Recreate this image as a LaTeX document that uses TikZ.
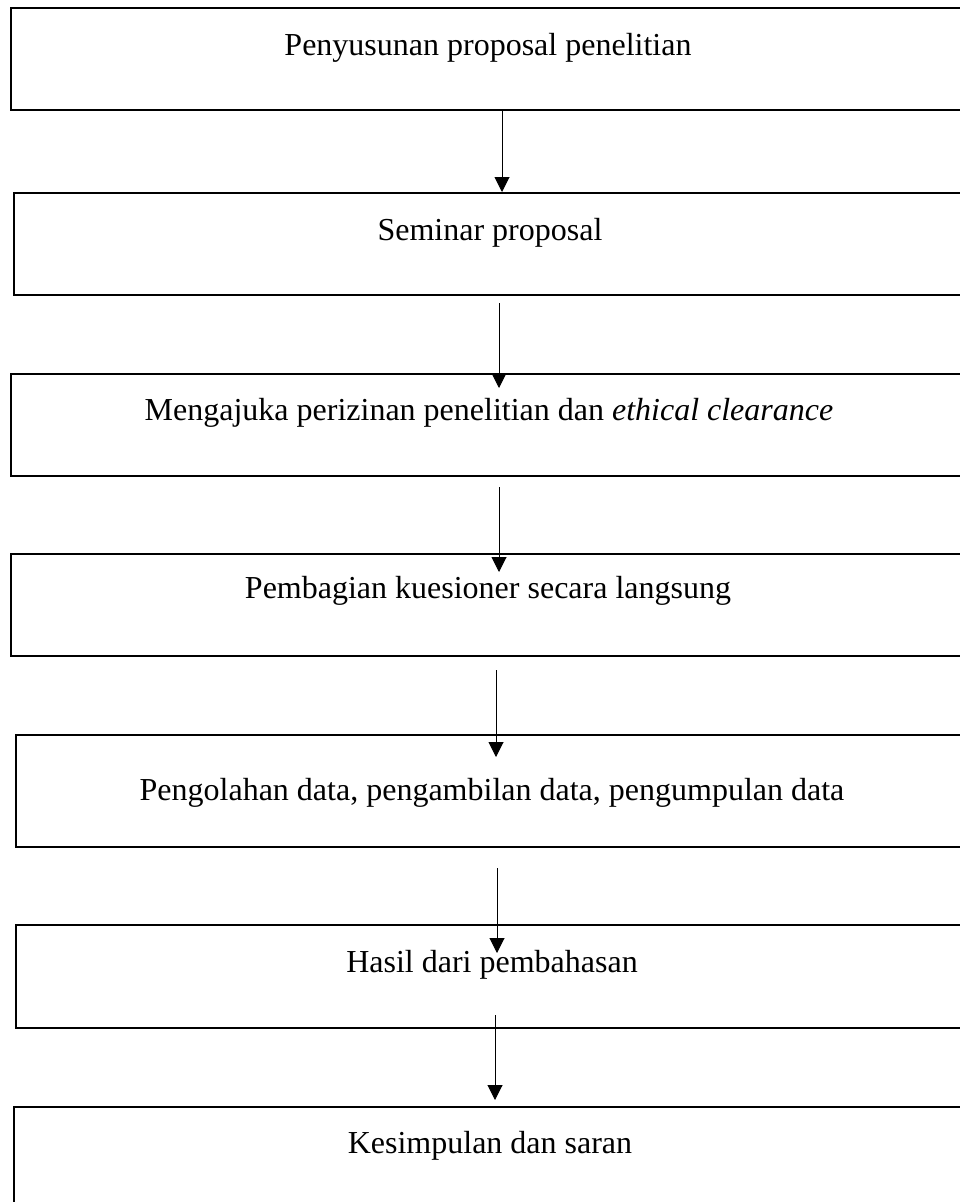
\documentclass[tikz,border=0pt]{standalone}
\usepackage{fontspec}
\setmainfont{Liberation Serif}
\usetikzlibrary{arrows.meta}
\begin{document}
\begin{tikzpicture}[x=1pt,y=-1pt,
  box/.style={draw=black,line width=2pt,rectangle,inner sep=0pt,anchor=north west,minimum width=965pt},
  txt/.style={anchor=base,inner sep=0pt,font=\fontsize{32}{38}\selectfont},
  arr/.style={line width=1pt,-{Triangle[length=15pt,width=15pt]}}]
\useasboundingbox (0,0) rectangle (960,1202);
\clip (0,0) rectangle (960,1202);
% boxes
\node[box,minimum height=102pt] (b1) at (10,7) {};
\node[box,minimum height=102pt] (b2) at (13,192) {};
\node[box,minimum height=102pt] (b3) at (10,373) {};
\node[box,minimum height=102pt] (b4) at (10,553) {};
\node[box,minimum height=112pt] (b5) at (15,734) {};
\node[box,minimum height=103pt] (b6) at (15,924) {};
\node[box,minimum height=120pt] (b7) at (13,1106) {};
% texts
\node[txt] (t1) at (488,55) {Penyusunan proposal penelitian};
\node[txt] (t2) at (490,240) {Seminar proposal};
\node[txt] (t3) at (489,420) {Mengajuka perizinan penelitian dan \textit{ethical clearance}};
\node[txt] (t4) at (488,598) {Pembagian kuesioner secara langsung};
\node[txt] (t5) at (492,800) {Pengolahan data, pengambilan data, pengumpulan data};
\node[txt] (t6) at (492,972) {Hasil dari pembahasan};
\node[txt] (t7) at (490,1153) {Kesimpulan dan saran};
% connector ends
\coordinate (a1s) at (502,109);  \coordinate (a1e) at (502,192);
\coordinate (a2s) at (499,303);  \coordinate (a2e) at (499,388);
\coordinate (a3s) at (499,487);  \coordinate (a3e) at (499,572);
\coordinate (a4s) at (496,670);  \coordinate (a4e) at (496,757);
\coordinate (a5s) at (497,868);  \coordinate (a5e) at (497,953);
\coordinate (a6s) at (495,1015); \coordinate (a6e) at (495,1100);
\draw[arr] (a1s) -- (a1e);
\draw[arr] (a2s) -- (a2e);
\draw[arr] (a3s) -- (a3e);
\draw[arr] (a4s) -- (a4e);
\draw[arr] (a5s) -- (a5e);
\draw[arr] (a6s) -- (a6e);
\end{tikzpicture}
\end{document}
